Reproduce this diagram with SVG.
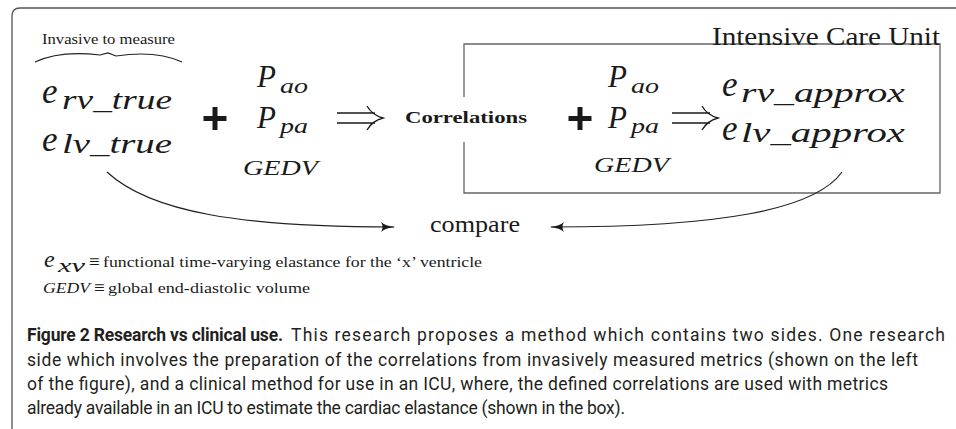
<svg xmlns="http://www.w3.org/2000/svg" width="956" height="429" viewBox="0 0 956 429">
<style>
.m{font-family:"Liberation Serif",serif;font-style:italic;fill:#1a1a1a}
.r{font-family:"Liberation Serif",serif;fill:#1a1a1a}
.b{font-family:"Liberation Serif",serif;font-weight:bold;fill:#1a1a1a}
.cap{font-family:Roboto,"Open Sans",sans-serif;font-size:17.5px;fill:#231f20}
.ln{fill:none;stroke:#222;stroke-width:1.2}
.frame{fill:none;stroke:#555;stroke-width:1.3}
.box{fill:none;stroke:#666;stroke-width:1.3}
.dar{fill:none;stroke:#1a1a1a;stroke-width:1.3}
</style>
<defs>
<marker id="ah" viewBox="0 0 14 10" refX="13" refY="5" markerWidth="14" markerHeight="10" markerUnits="userSpaceOnUse" orient="auto">
<path d="M0,0 Q4,4 14,5 Q4,6 0,10 Q3,5 0,0 Z" fill="#1a1a1a"/>
</marker>
</defs>
<path class="frame" d="M12,429 V16 Q12,8 20,8 H956"/>

<g id="invasive">
<text class="r" x="42" y="44" font-size="15" textLength="133" lengthAdjust="spacingAndGlyphs">Invasive to measure</text>
<path class="ln" d="M35,62 Q60,50 100,55 L108,53 L116,56 Q156,50 182,62" stroke-width="1"/>
</g>

<g id="etrue">
<text class="m" x="42" y="103" font-size="35">e</text>
<text class="m" x="62" y="109" font-size="27" textLength="110" lengthAdjust="spacingAndGlyphs">rv_true</text>
<text class="m" x="42" y="151" font-size="35">e</text>
<text class="m" x="62" y="153" font-size="27" textLength="110" lengthAdjust="spacingAndGlyphs">lv_true</text>
</g>

<g id="plus1"><path d="M212.5,107 h5 v9 h9 v5 h-9 v9 h-5 v-9 h-9 v-5 h9 Z" fill="#1a1a1a"/></g>

<g id="inputs1">
<text class="m" x="257" y="87" font-size="31">P</text>
<text class="m" x="280" y="93" font-size="22" textLength="28" lengthAdjust="spacingAndGlyphs">ao</text>
<text class="m" x="257" y="128" font-size="31">P</text>
<text class="m" x="280" y="133" font-size="22" textLength="28" lengthAdjust="spacingAndGlyphs">pa</text>
<text class="m" x="243" y="175" font-size="22" textLength="75" lengthAdjust="spacingAndGlyphs">GEDV</text>
</g>

<g id="arrow1"><path class="dar" d="M337,113 H375 M337,123 H375 M367,106 Q372,115 383,118 Q372,121 367,130"/></g>

<g id="correlations">
<text class="b" x="405" y="123" font-size="16" textLength="122" lengthAdjust="spacingAndGlyphs">Correlations</text>
</g>

<g id="icu">
<path class="box" d="M464,97 V44 H940 V193 H464 V142"/>
<text class="r" x="712" y="45" font-size="25" textLength="228" lengthAdjust="spacingAndGlyphs">Intensive Care Unit</text>
</g>

<g id="plus2"><path d="M577.5,107 h5 v9 h9 v5 h-9 v9 h-5 v-9 h-9 v-5 h9 Z" fill="#1a1a1a"/></g>

<g id="inputs2">
<text class="m" x="608" y="87" font-size="31">P</text>
<text class="m" x="631" y="93" font-size="22" textLength="28" lengthAdjust="spacingAndGlyphs">ao</text>
<text class="m" x="608" y="128" font-size="31">P</text>
<text class="m" x="631" y="133" font-size="22" textLength="28" lengthAdjust="spacingAndGlyphs">pa</text>
<text class="m" x="594" y="172" font-size="22" textLength="75" lengthAdjust="spacingAndGlyphs">GEDV</text>
</g>

<g id="arrow2"><path class="dar" d="M672,113 H710 M672,123 H710 M702,106 Q707,115 718,118 Q707,121 702,130"/></g>

<g id="eapprox">
<text class="m" x="722" y="96" font-size="35">e</text>
<text class="m" x="741" y="102" font-size="27" textLength="164" lengthAdjust="spacingAndGlyphs">rv_approx</text>
<text class="m" x="722" y="140" font-size="35">e</text>
<text class="m" x="741" y="142" font-size="27" textLength="164" lengthAdjust="spacingAndGlyphs">lv_approx</text>
</g>

<g id="compare">
<text class="r" x="430" y="232" font-size="23" textLength="90" lengthAdjust="spacingAndGlyphs">compare</text>
</g>

<g id="connectors">
<path class="ln" d="M107,172 C150,212 240,227 394,227" marker-end="url(#ah)"/>
<path class="ln" d="M842,172 C815,210 720,227 551,227" marker-end="url(#ah)"/>
</g>

<g id="legend">
<text class="m" x="44" y="267" font-size="24">e</text>
<text class="m" x="58" y="272" font-size="18" textLength="27" lengthAdjust="spacingAndGlyphs">xv</text>
<text class="r" x="89" y="268" font-size="19">≡</text>
<text class="r" x="103" y="267" font-size="14" textLength="379" lengthAdjust="spacingAndGlyphs">functional time-varying elastance for the ‘x’ ventricle</text>
<text class="m" x="43" y="293" font-size="14" textLength="47" lengthAdjust="spacingAndGlyphs">GEDV</text>
<text class="r" x="94" y="294" font-size="19">≡</text>
<text class="r" x="108" y="293" font-size="14" textLength="202" lengthAdjust="spacingAndGlyphs">global end-diastolic volume</text>
</g>

<g id="caption">
<text class="cap" x="27" y="341" font-weight="bold" textLength="256" lengthAdjust="spacing">Figure 2 Research vs clinical use.</text>
<text class="cap" x="291" y="341" textLength="654" lengthAdjust="spacing">This research proposes a method which contains two sides. One research</text>
<text class="cap" x="27" y="366" textLength="891" lengthAdjust="spacing">side which involves the preparation of the correlations from invasively measured metrics (shown on the left</text>
<text class="cap" x="27" y="390" textLength="861" lengthAdjust="spacing">of the figure), and a clinical method for use in an ICU, where, the defined correlations are used with metrics</text>
<text class="cap" x="27" y="414" textLength="598" lengthAdjust="spacing">already available in an ICU to estimate the cardiac elastance (shown in the box).</text>
</g>
</svg>
